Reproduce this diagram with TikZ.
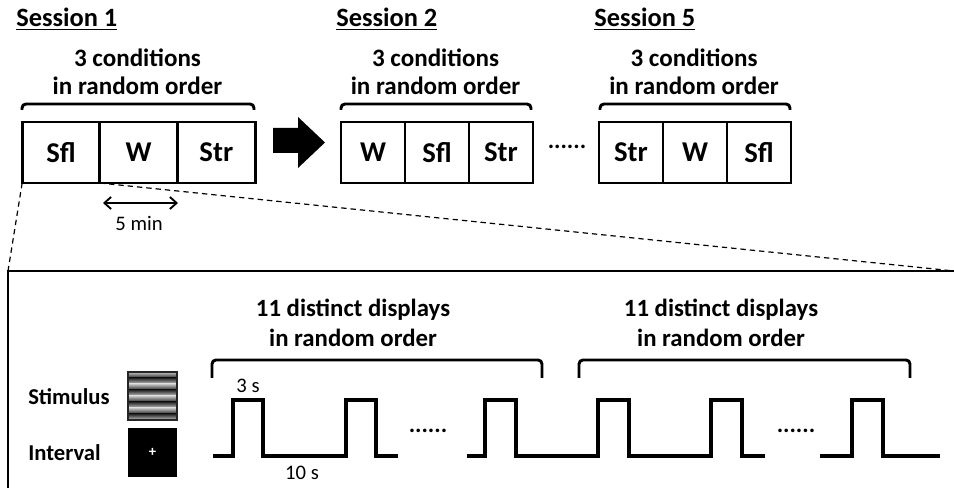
\documentclass[tikz,border=0pt]{standalone}
\usepackage{fontspec}
\setmainfont{Carlito}
\usetikzlibrary{arrows.meta, positioning}

\begin{document}
\begin{tikzpicture}[
  x=0.75pt, y=-0.75pt,
  cell/.style={draw, line width=2.2pt, outer sep=0pt, inner sep=0pt,
               minimum height=45.75pt, font=\fontsize{21.5}{24}\selectfont\bfseries},
  sessionlbl/.style={anchor=base west, inner sep=0pt, font=\fontsize{19.8}{22}\selectfont\bfseries},
  orderlbl/.style={align=center, inner sep=0pt, font=\fontsize{18.8}{21}\selectfont\bfseries},
  displbl/.style={align=center, inner sep=0pt, font=\fontsize{18.6}{22.5}\selectfont\bfseries},
  legendlbl/.style={anchor=base west, inner sep=0pt, font=\fontsize{17}{20}\selectfont\bfseries},
  brace/.style={line width=2.2pt, rounded corners=3pt},
  wave/.style={line width=2.4pt},
  dots/.style={inner sep=0pt, font=\fontsize{18}{20}\selectfont\bfseries},
  small/.style={inner sep=0pt, font=\fontsize{15.5}{18}\selectfont}
]
\useasboundingbox (0,0) rectangle (954,488);

% sessions
\node[sessionlbl] (ses1) at (16,27) {\underline{Session 1}};
\node[sessionlbl] (ses2) at (336,27) {\underline{Session 2}};
\node[sessionlbl] (ses5) at (594,27) {\underline{Session 5}};

\node[cell, minimum width=58.25pt] (s1a) at (61,152.5) {Sfl};
\node[cell, minimum width=58.25pt, right=0pt of s1a] (s1b) {W};
\node[cell, minimum width=58.25pt, right=0pt of s1b] (s1c) {Str};

\node[cell, minimum width=48pt] (s2a) at (373,152.5) {W};
\node[cell, minimum width=48pt, right=0pt of s2a] (s2b) {Sfl};
\node[cell, minimum width=48pt, right=0pt of s2b] (s2c) {Str};

\node[cell, minimum width=48pt] (s5a) at (631,152.5) {Str};
\node[cell, minimum width=48pt, right=0pt of s5a] (s5b) {W};
\node[cell, minimum width=48pt, right=0pt of s5b] (s5c) {Sfl};

\node[dots] (skip) at (567,147) {......};

% braces over each session
\foreach \a/\b in {22/254, 341/531, 600/790}
  \draw[brace] (\a,110) -- (\a,104) -- (\b,104) -- (\b,110);
\node[orderlbl, anchor=south] (ord1) at (137.5,95) {3 conditions\\in random order};
\node[orderlbl, anchor=south] (ord2) at (435.5,95) {3 conditions\\in random order};
\node[orderlbl, anchor=south] (ord5) at (694,95) {3 conditions\\in random order};

% next-session arrow
\fill (273,128) -- (298,128) -- (298,117) -- (325,142.5) -- (298,168)
  -- (298,153) -- (273,153) -- cycle;

% condition length
\coordinate (m1) at (103,203);
\coordinate (m2) at (178,203);
\draw[{Straight Barb[length=5pt,width=9pt]}-{Straight Barb[length=5pt,width=9pt]}, line width=1.4pt] (m1) -- (m2);
\node[small] (fivemin) at (139,223) {5 min};

% zoom-in panel
\coordinate (pTL) at (8,271);
\coordinate (pTR) at (954,271);
\coordinate (pBL) at (8,488);
\draw[dashed, line width=0.9pt, dash pattern=on 4pt off 3pt] (s1a.south west) -- (pTL);
\draw[dashed, line width=0.9pt, dash pattern=on 4pt off 3pt] (s1a.south east) -- (pTR);
\draw[line width=1.6pt] (pTR) -- (pTL) -- (pBL);

\node[displbl, anchor=south] (disp1) at (353,347) {11 distinct displays\\in random order};
\node[displbl, anchor=south] (disp2) at (721,347) {11 distinct displays\\in random order};
\foreach \a/\b in {212/542, 579/910}
  \draw[brace] (\a,378) -- (\a,360) -- (\b,360) -- (\b,378);

% stimulus / interval legend
\node[legendlbl] (stimlbl) at (28,405) {Stimulus};
\node[legendlbl] (intlbl) at (28,460) {Interval};
\foreach \i in {0,...,3} {
  \shade[top color=gray!45, bottom color=black!85] (128,372+12*\i) rectangle (177,378+12*\i);
  \shade[top color=black!85, bottom color=gray!45] (128,378+12*\i) rectangle (177,384+12*\i);
}
\draw[line width=1pt, black!85] (128,372) rectangle (177,420);
\fill (128,428) rectangle (177,477);
\node[text=white, inner sep=0pt, font=\fontsize{11}{12}\selectfont\bfseries] (fix) at (152.5,452) {+};

% trial time course
\draw[wave] (213,456) foreach \x in {233,346} { -- (\x,456) -- (\x,400) -- (\x+30,400) -- (\x+30,456) } -- (398,456);
\draw[wave] (467,456) foreach \x in {485,598,711} { -- (\x,456) -- (\x,400) -- (\x+31,400) -- (\x+31,456) } -- (765,456);
\draw[wave] (820,456) -- (852,456) -- (852,400) -- (883,400) -- (883,456) -- (940,456);
\node[dots] (gap1) at (428,431) {......};
\node[dots] (gap2) at (796,431) {......};
\node[small] (dur3) at (248,386) {3 s};
\node[small] (dur10) at (302,473) {10 s};
\end{tikzpicture}
\end{document}
